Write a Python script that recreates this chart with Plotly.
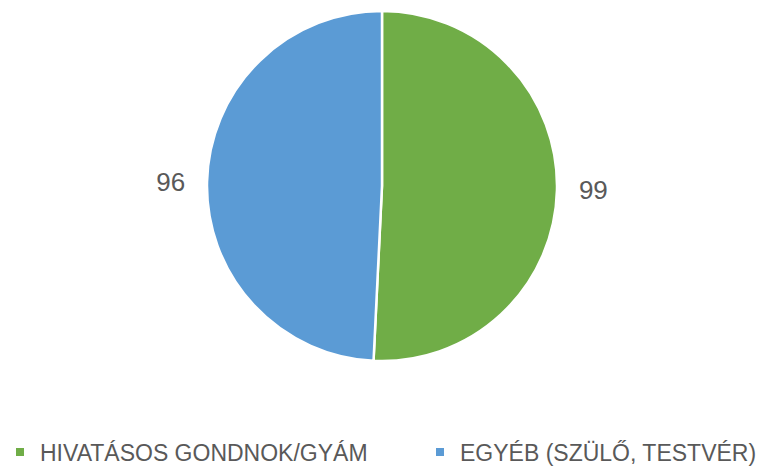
import plotly.graph_objects as go

labels = ["HIVATÁSOS GONDNOK/GYÁM", "EGYÉB (SZÜLŐ, TESTVÉR)"]
values = [99, 96]
colors = ["#70AD47", "#5B9BD5"]

W, H = 766, 468
cx, cy, r = 374, 178, 175

fig = go.Figure(go.Pie(
    labels=labels,
    values=values,
    sort=False,
    direction="clockwise",
    rotation=0,
    marker=dict(colors=colors, line=dict(color="white", width=2.5)),
    texttemplate=["  %{value}", "%{value}  "],
    textposition="outside",
    textfont=dict(size=26, color="#595959"),
    domain=dict(x=[(cx - r) / W, (cx + r) / W], y=[(H - cy - r) / H, (H - cy + r) / H]),
    automargin=False,
    showlegend=False,
))

# legend entries (one legend per category so they sit where the reference puts them)
legend_names = ["legend", "legend2"]
for lab, col, lg in zip(labels, colors, legend_names):
    fig.add_trace(go.Scatter(
        x=[None], y=[None], mode="markers", name=lab,
        marker=dict(symbol="square", size=8, color=col),
        showlegend=True, legend=lg, hoverinfo="skip",
    ))

legend_common = dict(
    orientation="h", yanchor="middle", y=0.051, xanchor="left",
    font=dict(size=23, color="#595959"), bgcolor="rgba(0,0,0,0)",
)

fig.update_layout(
    width=W, height=H,
    margin=dict(l=0, r=0, t=0, b=0, autoexpand=False),
    paper_bgcolor="white",
    plot_bgcolor="white",
    font=dict(family="Liberation Sans, sans-serif", color="#595959"),
    xaxis=dict(visible=False),
    yaxis=dict(visible=False),
    legend=dict(x=-8 / W, **legend_common),
    legend2=dict(x=412 / W, **legend_common),
)

fig.write_html("out.html")
